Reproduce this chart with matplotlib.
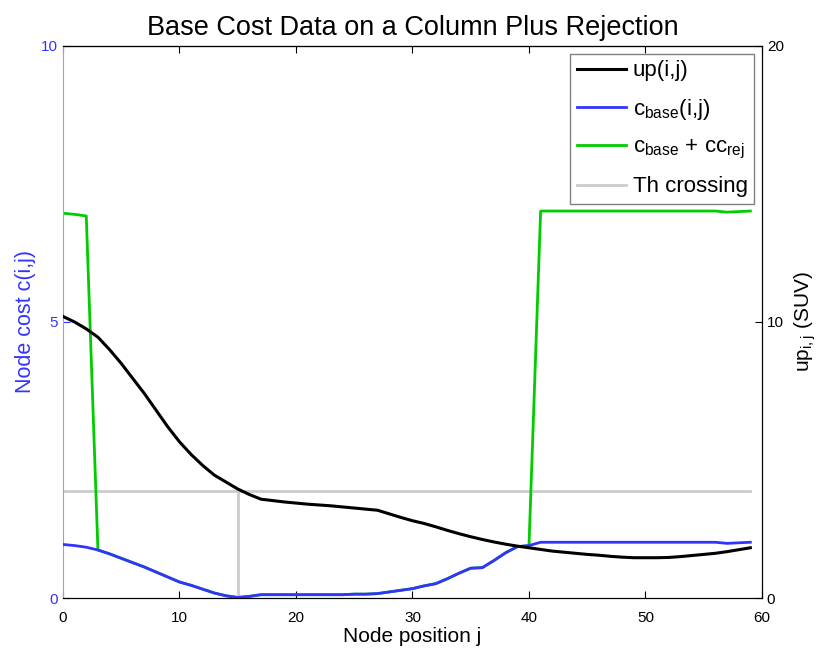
import numpy as np
import matplotlib.pyplot as plt

plt.rcParams['font.family'] = ['Liberation Sans', 'DejaVu Sans']
plt.rcParams['mathtext.default'] = 'regular'

# node positions along the column
node_j = np.arange(60)

# uptake values up(i,j) in SUV (right axis)
up_vals = [10.2, 10.0, 9.75, 9.45, 9.0, 8.5, 7.95, 7.4, 6.8, 6.2,
           5.66, 5.2, 4.8, 4.45, 4.2, 3.95, 3.75, 3.58, 3.53, 3.48,
           3.44, 3.40, 3.37, 3.34, 3.30, 3.26, 3.22, 3.18, 3.05, 2.92,
           2.80, 2.70, 2.58, 2.45, 2.33, 2.22, 2.12, 2.03, 1.95, 1.88,
           1.82, 1.76, 1.70, 1.66, 1.62, 1.58, 1.55, 1.51, 1.48, 1.46,
           1.46, 1.46, 1.47, 1.50, 1.54, 1.58, 1.62, 1.68, 1.75, 1.82]

# base node cost c_base(i,j) (left axis)
c_base = [0.97, 0.95, 0.92, 0.87, 0.80, 0.72, 0.64, 0.56, 0.47, 0.38,
          0.29, 0.23, 0.16, 0.09, 0.04, 0.01, 0.03, 0.06, 0.06, 0.06,
          0.06, 0.06, 0.06, 0.06, 0.06, 0.07, 0.07, 0.08, 0.11, 0.14,
          0.17, 0.22, 0.26, 0.35, 0.45, 0.54, 0.55, 0.68, 0.82, 0.93,
          0.95, 1.01, 1.01, 1.01, 1.01, 1.01, 1.01, 1.01, 1.01, 1.01,
          1.01, 1.01, 1.01, 1.01, 1.01, 1.01, 1.01, 0.99, 1.00, 1.01]

# rejection cost added outside the accepted range
rej_cost = 6.0
rejected = (node_j <= 2) | (node_j >= 41)

# threshold crossing
th_level = 1.94
th_pos = 15

c_base = np.array(c_base)
c_rej = c_base + np.where(rejected, rej_cost, 0.0)

blue = (0.2, 0.2, 1.0)
green = (0.0, 0.8, 0.0)
gray = (0.8, 0.8, 0.8)

fig = plt.figure(figsize=(8.22, 6.55), dpi=100)
ax = fig.add_axes([0.0766, 0.087, 0.8504, 0.8428])

l_th, = ax.plot([node_j[0], node_j[-1]], [th_level, th_level], color=gray, lw=2, zorder=1)
ax.plot([th_pos, th_pos], [0, th_level], color=gray, lw=2, zorder=1)
l_rej, = ax.plot(node_j, c_rej, color=green, lw=2, zorder=2)
l_base, = ax.plot(node_j, c_base, color=blue, lw=2, zorder=3)

ax.set_xlim(0, 60)
ax.set_ylim(0, 10)
ax.set_xticks(range(0, 61, 10))
ax.set_yticks([0, 5, 10])
ax.tick_params(direction='in', labelsize=11, length=5)
ax.tick_params(axis='x', pad=9)
ax.tick_params(axis='y', colors=blue, labelcolor=blue)
ax.spines['left'].set_color((0.6, 0.6, 1.0))
ax.set_xlabel('Node position j', fontsize=15, labelpad=2)
ax.set_ylabel('Node cost c(i,j)', fontsize=15.5, color=blue, labelpad=4)
ax.set_title('Base Cost Data on a Column Plus Rejection', fontsize=19.5, pad=8)

ax2 = ax.twinx()
l_up, = ax2.plot(node_j, up_vals, color='black', lw=2.2)
ax2.set_ylim(0, 20)
ax2.set_yticks([0, 10, 20])
ax2.tick_params(direction='in', labelsize=11, length=5)
ax2.set_ylabel('up$_{i,j}$ (SUV)', fontsize=15, labelpad=6)
ax2.spines['left'].set_visible(False)

# mirrored ticks on the top edge
top = ax.secondary_xaxis('top')
top.set_xticks(range(0, 61, 10))
top.tick_params(direction='in', length=5, labeltop=False)

leg = ax2.legend([l_up, l_base, l_rej, l_th],
                 ['up(i,j)', 'c$_{base}$(i,j)', 'c$_{base}$ + cc$_{rej}$', 'Th crossing'],
                 loc='upper right', fontsize=16, fancybox=False, framealpha=1,
                 edgecolor='gray', borderaxespad=0.35, handlelength=2.2,
                 handletextpad=0.3, labelspacing=0.68, borderpad=0.3)
leg.get_frame().set_linewidth(1)

fig.savefig('out.png', dpi=100)
